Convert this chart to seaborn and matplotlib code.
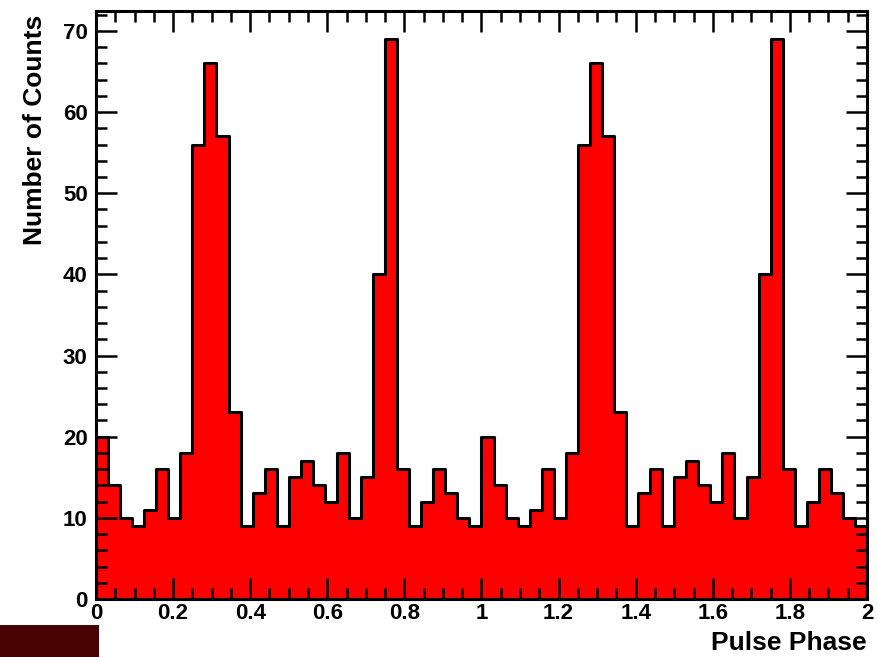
import numpy as np
import pandas as pd
import matplotlib
matplotlib.use("Agg")
import matplotlib.pyplot as plt
from matplotlib import font_manager
from matplotlib.ticker import MultipleLocator
from matplotlib.patches import Rectangle
import seaborn as sns

# ---- data (one pulse cycle, 32 phase bins, shown twice) ----
cycle_counts = [20, 14, 10, 9, 11, 16, 10, 18, 56, 66, 57, 23, 9, 13, 16, 9,
                15, 17, 14, 12, 18, 10, 15, 40, 69, 16, 9, 12, 16, 13, 10, 9]
n_cycles = 2
bins_per_cycle = 32
counts = cycle_counts * n_cycles
x_ticks = [0, 0.2, 0.4, 0.6, 0.8, 1, 1.2, 1.4, 1.6, 1.8, 2]
x_ticklabels = ["0", "0.2", "0.4", "0.6", "0.8", "1", "1.2", "1.4", "1.6", "1.8", "2"]
y_ticks = [0, 10, 20, 30, 40, 50, 60, 70]

n_bins = n_cycles * bins_per_cycle
edges = np.linspace(0, n_cycles, n_bins + 1)
centers = 0.5 * (edges[:-1] + edges[1:])
df = pd.DataFrame({"phase": centers, "counts": counts})

sns.set_theme(style="white")
avail = {f.name for f in font_manager.fontManager.ttflist}
fam = "Liberation Sans Narrow" if "Liberation Sans Narrow" in avail else "Liberation Sans"
plt.rcParams["font.family"] = [fam, "DejaVu Sans"]
plt.rcParams["font.weight"] = "bold"
plt.rcParams["text.color"] = "black"
plt.rcParams["axes.labelcolor"] = "black"
plt.rcParams["xtick.color"] = "black"
plt.rcParams["ytick.color"] = "black"
plt.rcParams["axes.axisbelow"] = False

fig = plt.figure(figsize=(8.78, 6.57), dpi=100)
ax = fig.add_axes([96 / 878, 1 - 599 / 657, (867 - 96) / 878, (599 - 11) / 657])

sns.histplot(data=df, x="phase", weights="counts", bins=n_bins,
             binrange=(0, n_cycles), element="step",
             fill=True, color="#ff0000", alpha=1, edgecolor="black",
             linewidth=2.2, ax=ax)

ax.set_axisbelow(False)
ax.set_xlim(0, 2)
ax.set_ylim(0, max(counts) * 1.05)

ax.set_xticks(x_ticks)
ax.set_xticklabels(x_ticklabels)
ax.set_yticks(y_ticks)
ax.xaxis.set_minor_locator(MultipleLocator(0.05))
ax.yaxis.set_minor_locator(MultipleLocator(2))
ax.tick_params(which="both", direction="in", top=True, right=True,
               bottom=True, left=True, width=1.8, color="black",
               labelcolor="black")
ax.tick_params(which="major", length=15, labelsize=17 if fam.endswith("Narrow") else 16)
ax.tick_params(which="minor", length=8)
ax.tick_params(axis="x", which="major", pad=3)
ax.tick_params(axis="y", which="major", pad=6)
for lab in ax.get_xticklabels() + ax.get_yticklabels():
    lab.set_fontweight("bold")

for s in ax.spines.values():
    s.set_visible(True)
    s.set_color("black")
    s.set_linewidth(2.2)
    s.set_zorder(5)

tsize = 20 if fam.endswith("Narrow") else 19
ax.set_xlabel("Pulse Phase", loc="right", fontsize=tsize, fontweight="bold", color="black")
ax.set_ylabel("Number of Counts", loc="top", fontsize=tsize, fontweight="bold", color="black")
ax.xaxis.set_label_coords(1.0, -0.055)
ax.yaxis.set_label_coords(-0.064, 0.993)
ax.grid(False)

fig.patches.append(Rectangle((0, 0), 99 / 878, 32 / 657, transform=fig.transFigure,
                             facecolor="#4a0303", edgecolor="none", zorder=0))

fig.savefig("out.png", dpi=100)
